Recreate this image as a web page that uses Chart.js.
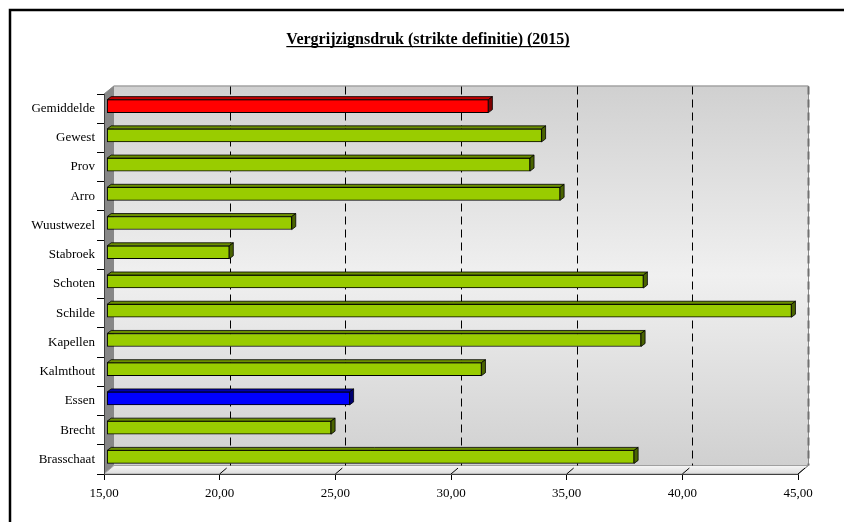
<!DOCTYPE html>
<html>
<head>
<meta charset="utf-8">
<script src="https://cdn.jsdelivr.net/npm/chart.js@4.4.1/dist/chart.umd.min.js"></script>
<style>
  html, body { margin: 0; padding: 0; background: #fff; }
  #wrap { width: 844px; height: 522px; }
</style>
</head>
<body>
<div id="wrap"><canvas id="chart" width="844" height="522"></canvas></div>
<script>
// Chart data
const chartTitle = 'Vergrijzignsdruk (strikte definitie) (2015)';
const categories = ['Gemiddelde', 'Gewest', 'Prov', 'Arro', 'Wuustwezel', 'Stabroek', 'Schoten',
                    'Schilde', 'Kapellen', 'Kalmthout', 'Essen', 'Brecht', 'Brasschaat'];
const values = [31.5, 33.8, 33.3, 34.6, 23.0, 20.3, 38.2, 44.6, 38.1, 31.2, 25.5, 24.7, 37.8];
const xMin = 15;
const xMax = 45;
const xStep = 5;
const redCategory = 'Gemiddelde';
const blueCategory = 'Essen';

// 3D look: depth of the walls and of the bars
const WALL_DX = 10, WALL_DY = -8.5;
const BAR_DX = 4, BAR_DY = -3;
const BAR_SHIFT_X = 2.7, BAR_SHIFT_Y = -2.5;

const serif = "'Liberation Serif', 'Times New Roman', serif";

const palette = {
    green: { front: '#99cc00', top: '#6b8f00', side: '#4a6400' },
    red:   { front: '#ff0000', top: '#c00000', side: '#800000' },
    blue:  { front: '#0000ff', top: '#0000b0', side: '#000070' }
};

function colorsFor(name) {
    if (name === redCategory) return palette.red;
    if (name === blueCategory) return palette.blue;
    return palette.green;
}

function poly(ctx, pts) {
    ctx.beginPath();
    ctx.moveTo(pts[0], pts[1]);
    for (let i = 2; i < pts.length; i += 2) ctx.lineTo(pts[i], pts[i + 1]);
    ctx.closePath();
}

// Frame, title, back wall, side wall, floor and dashed gridlines
const wallPlugin = {
    id: 'walls',
    beforeDraw(chart) {
        const { ctx, chartArea: a } = chart;
        const xs = chart.scales.x;
        ctx.save();

        // outer frame (cut off at right and bottom like the original)
        ctx.strokeStyle = '#000';
        ctx.lineWidth = 2.5;
        ctx.strokeRect(10, 10, 900, 600);

        // title, underlined
        ctx.font = 'bold 16px ' + serif;
        ctx.fillStyle = '#000';
        ctx.textAlign = 'center';
        ctx.textBaseline = 'alphabetic';
        const tx = 428, ty = 44;
        ctx.fillText(chartTitle, tx, ty);
        const tw = ctx.measureText(chartTitle).width;
        ctx.fillRect(tx - tw / 2, ty + 2, tw, 1.2);

        const L = a.left + WALL_DX, T = a.top + WALL_DY;
        const R = a.right + WALL_DX, B = a.bottom + WALL_DY;

        // back wall
        const g = ctx.createLinearGradient(0, T, 0, B);
        g.addColorStop(0, '#d0d0d0');
        g.addColorStop(0.5, '#f0f0f0');
        g.addColorStop(1, '#d0d0d0');
        ctx.fillStyle = g;
        ctx.fillRect(L, T, R - L, B - T);

        // side wall
        ctx.fillStyle = '#878787';
        poly(ctx, [a.left, a.top, L, T, L, B, a.left, a.bottom]);
        ctx.fill();

        // floor
        const fg = ctx.createLinearGradient(0, B, 0, a.bottom);
        fg.addColorStop(0, '#f6f6f6');
        fg.addColorStop(1, '#dcdcdc');
        ctx.fillStyle = fg;
        poly(ctx, [a.left, a.bottom, L, B, R, B, a.right, a.bottom]);
        ctx.fill();
        ctx.strokeStyle = '#a0a0a0';
        ctx.lineWidth = 1;
        ctx.stroke();

        // wall edges
        ctx.strokeStyle = '#8c8c8c';
        ctx.beginPath();
        ctx.moveTo(a.left, a.top);
        ctx.lineTo(L, T + 0.5);
        ctx.lineTo(R + 0.5, T + 0.5);
        ctx.lineTo(R + 0.5, B);
        ctx.lineTo(a.right, a.bottom);
        ctx.stroke();

        // dashed gridlines on the back wall
        ctx.setLineDash([8, 5]);
        xs.ticks.forEach(t => {
            if (t.value === xMin) return;
            const x = Math.round(xs.getPixelForValue(t.value) + WALL_DX) + 0.5;
            ctx.strokeStyle = t.value === xMax ? '#707070' : '#000';
            ctx.lineWidth = t.value === xMax ? 2 : 1;
            ctx.beginPath();
            ctx.moveTo(x, T + 1);
            ctx.lineTo(x, B);
            ctx.stroke();
        });
        ctx.setLineDash([]);

        // short slanted marks on the floor
        ctx.strokeStyle = '#000';
        ctx.lineWidth = 1;
        xs.ticks.forEach(t => {
            if (t.value === xMin) return;
            const x = xs.getPixelForValue(t.value);
            ctx.beginPath();
            ctx.moveTo(x, a.bottom);
            ctx.lineTo(x + WALL_DX * 0.7, a.bottom + WALL_DY * 0.7);
            ctx.stroke();
        });

        ctx.restore();
    }
};

// Bars sit a bit inside the depth, and get a top and a side face
const barDepthPlugin = {
    id: 'barDepth',
    beforeDatasetsDraw(chart) {
        chart.ctx.save();
        chart.ctx.translate(BAR_SHIFT_X, BAR_SHIFT_Y);
    },
    afterDatasetsDraw(chart) {
        const ctx = chart.ctx;
        ctx.lineWidth = 0.8;
        ctx.strokeStyle = '#000';
        chart.getDatasetMeta(0).data.forEach((bar, i) => {
            const c = colorsFor(categories[i]);
            const top = bar.y - bar.height / 2;
            const bottom = bar.y + bar.height / 2;
            const x0 = Math.max(bar.base, chart.chartArea.left), x1 = bar.x;

            ctx.fillStyle = c.top;
            poly(ctx, [x0, top, x0 + BAR_DX, top + BAR_DY, x1 + BAR_DX, top + BAR_DY, x1, top]);
            ctx.fill();
            ctx.stroke();

            ctx.fillStyle = c.side;
            poly(ctx, [x1, top, x1 + BAR_DX, top + BAR_DY, x1 + BAR_DX, bottom + BAR_DY, x1, bottom]);
            ctx.fill();
            ctx.stroke();
        });
        ctx.restore();
    }
};

new Chart(document.getElementById('chart'), {
    type: 'bar',
    data: {
        labels: categories,
        datasets: [{
            data: values,
            base: xMin,
            backgroundColor: categories.map(n => colorsFor(n).front),
            borderColor: '#000',
            borderWidth: 1,
            borderSkipped: false,
            barThickness: 13
        }]
    },
    options: {
        indexAxis: 'y',
        responsive: false,
        animation: false,
        devicePixelRatio: 1,
        layout: {
            padding: { left: 0, right: 46, top: 94, bottom: 16 }
        },
        plugins: {
            legend: { display: false },
            tooltip: { enabled: false },
            title: { display: false }
        },
        scales: {
            x: {
                min: xMin,
                max: xMax,
                ticks: {
                    stepSize: xStep,
                    maxRotation: 0,
                    padding: 6,
                    color: '#000',
                    font: { family: serif, size: 13 },
                    callback: v => v.toFixed(2).replace('.', ',')
                },
                grid: { drawOnChartArea: false, drawTicks: true, tickLength: 6, color: '#000' },
                border: { display: true, color: '#404040' },
                afterFit: s => { s.height = 32; }
            },
            y: {
                ticks: {
                    padding: 2,
                    color: '#000',
                    font: { family: serif, size: 13 }
                },
                grid: { drawOnChartArea: false, drawTicks: true, tickLength: 7, color: '#000', offset: true },
                border: { display: true, color: '#404040' },
                afterFit: s => { s.width = 104; }
            }
        }
    },
    plugins: [wallPlugin, barDepthPlugin]
});
</script>
</body>
</html>
